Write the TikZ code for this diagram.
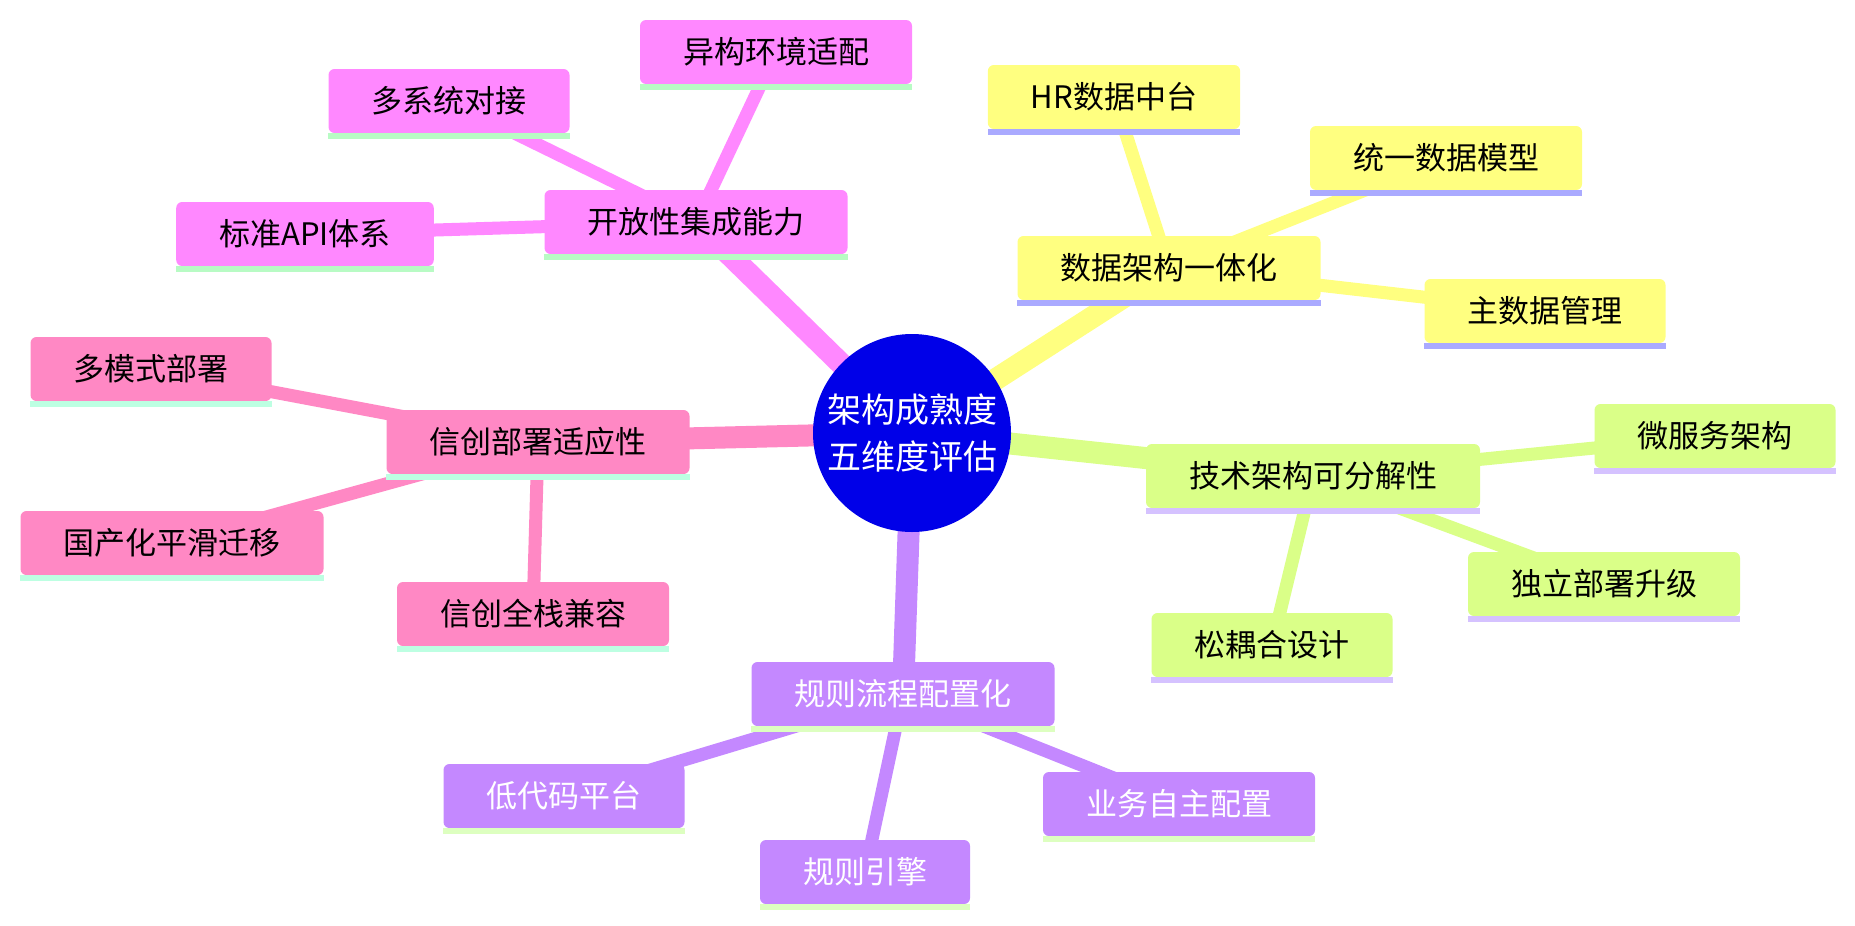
\documentclass[tikz,border=0pt]{standalone}
\usepackage{fontspec}
\setmainfont{Noto Sans CJK SC}
\usetikzlibrary{backgrounds}
\definecolor{cMag}{HTML}{FF88FF}
\definecolor{uMag}{HTML}{B8FBC4}
\definecolor{cYel}{HTML}{FFFF80}
\definecolor{uYel}{HTML}{AAAAFF}
\definecolor{cGrn}{HTML}{DAFF88}
\definecolor{uGrn}{HTML}{D5C2FF}
\definecolor{cPur}{HTML}{C488FF}
\definecolor{uPur}{HTML}{DDFFC0}
\definecolor{cPnk}{HTML}{FF88C4}
\definecolor{uPnk}{HTML}{BDFFE2}
\definecolor{cRoot}{RGB}{0,0,232}
\begin{document}
\begin{tikzpicture}[x=1pt,y=-1pt,
  box/.style={rectangle, rounded corners=6pt, minimum height=64pt, inner xsep=43pt, inner ysep=0pt,
    font=\fontsize{31}{36}\selectfont, text=black},
  mag/.style={box, fill=cMag},
  yel/.style={box, fill=cYel},
  grn/.style={box, fill=cGrn},
  pnk/.style={box, fill=cPnk},
  pur/.style={box, fill=cPur, text=white},
  rootnode/.style={circle, fill=cRoot, minimum size=198pt, inner sep=0pt, text=white,
    align=center, font=\fontsize{34}{47}\selectfont},
  mainedge/.style={line width=22pt},
  subedge/.style={line width=13pt}
]
\useasboundingbox (0,0) rectangle (1855,926);

\node[rootnode] (root) at (912,433) {架构成熟度\\五维度评估};

\node[mag] (n4) at (696,222) {开放性集成能力};
\node[mag] (n1) at (776,52) {异构环境适配};
\node[mag] (n2) at (449,101) {多系统对接};
\node[mag] (n3) at (305,234) {标准API体系};

\node[yel] (n7) at (1169,268) {数据架构一体化};
\node[yel] (n5) at (1114,97) {HR数据中台};
\node[yel] (n6) at (1446,158) {统一数据模型};
\node[yel] (n8) at (1545,311) {主数据管理};

\node[pnk] (n10) at (538,442) {信创部署适应性};
\node[pnk] (n9) at (151,369) {多模式部署};
\node[pnk] (n11) at (172,543) {国产化平滑迁移};
\node[pnk] (n12) at (533,614) {信创全栈兼容};

\node[grn] (n13) at (1313,476) {技术架构可分解性};
\node[grn] (n14) at (1715,436) {微服务架构};
\node[grn] (n15) at (1604,584) {独立部署升级};
\node[grn] (n16) at (1272,645) {松耦合设计};

\node[pur] (n17) at (903,694) {规则流程配置化};
\node[pur] (n18) at (564,796) {低代码平台};
\node[pur] (n19) at (865,872) {规则引擎};
\node[pur] (n20) at (1179,804) {业务自主配置};

\foreach \n/\c in {n1/uMag,n2/uMag,n3/uMag,n4/uMag,
                   n5/uYel,n6/uYel,n7/uYel,n8/uYel,
                   n9/uPnk,n10/uPnk,n11/uPnk,n12/uPnk,
                   n13/uGrn,n14/uGrn,n15/uGrn,n16/uGrn,
                   n17/uPur,n18/uPur,n19/uPur,n20/uPur}
  \fill[\c] (\n.south west) rectangle ([yshift=-6pt]\n.south east);

\begin{pgfonlayer}{background}
  \fill[white] (0,0) rectangle (1855,926);
  \draw[mainedge, cMag] (root.center) -- (n4.center);
  \draw[mainedge, cYel] (root.center) -- (n7.center);
  \draw[mainedge, cPnk] (root.center) -- (n10.center);
  \draw[mainedge, cGrn] (root.center) -- (n13.center);
  \draw[mainedge, cPur] (root.center) -- (n17.center);
  \foreach \a/\b in {n4/n1,n4/n2,n4/n3}
    \draw[subedge, cMag] (\a.center) -- (\b.center);
  \foreach \a/\b in {n7/n5,n7/n6,n7/n8}
    \draw[subedge, cYel] (\a.center) -- (\b.center);
  \foreach \a/\b in {n10/n9,n10/n11,n10/n12}
    \draw[subedge, cPnk] (\a.center) -- (\b.center);
  \foreach \a/\b in {n13/n14,n13/n15,n13/n16}
    \draw[subedge, cGrn] (\a.center) -- (\b.center);
  \foreach \a/\b in {n17/n18,n17/n19,n17/n20}
    \draw[subedge, cPur] (\a.center) -- (\b.center);
\end{pgfonlayer}
\end{tikzpicture}
\end{document}
